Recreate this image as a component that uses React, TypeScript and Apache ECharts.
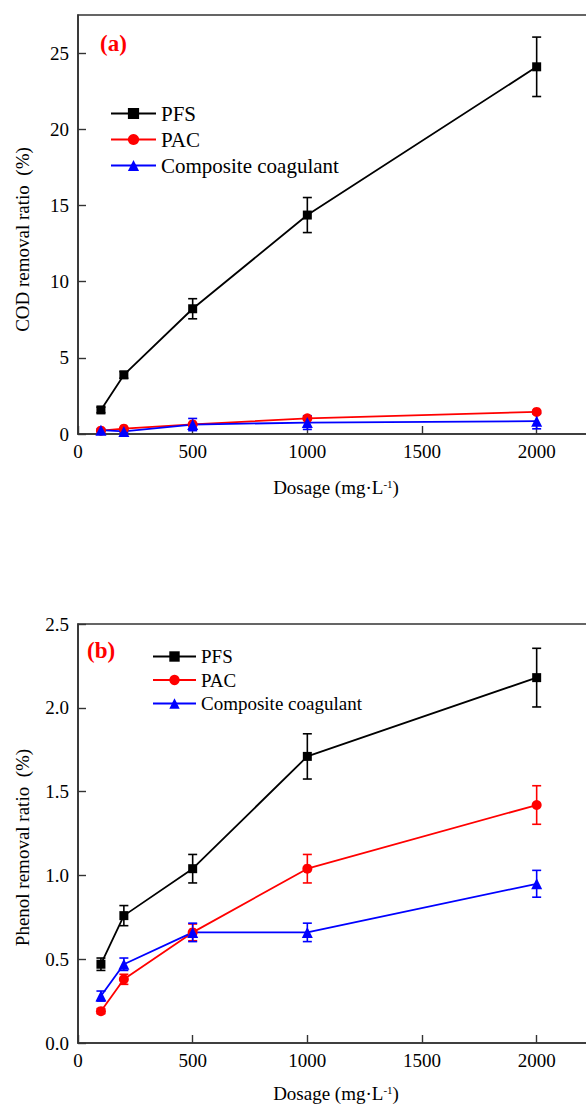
import React, { useEffect, useRef } from "react";
import * as echarts from "echarts";

// ---- data ----
const dosage = [100, 200, 500, 1000, 2000];
const seriesNames = ["PFS", "PAC", "Composite coagulant"];
const colors = ["#000000", "#ff0000", "#0000ff"];
const symbols = ["rect", "circle", "triangle"];

// (a) COD removal ratio (%)
const codPFS = [1.58, 3.88, 8.22, 14.37, 24.1];
const codPFSErr = [0.18, 0.22, 0.66, 1.15, 1.95];
const codPAC = [0.22, 0.35, 0.63, 1.03, 1.45];
const codPACErr = [0.05, 0.05, 0.06, 0.08, 0.1];
const codComp = [0.25, 0.17, 0.62, 0.75, 0.84];
const codCompErr = [0.1, 0.08, 0.4, 0.45, 0.5];

// (b) Phenol removal ratio (%)
const phPFS = [0.47, 0.76, 1.04, 1.71, 2.18];
const phPFSErr = [0.037, 0.06, 0.085, 0.135, 0.175];
const phPAC = [0.19, 0.38, 0.66, 1.04, 1.42];
const phPACErr = [0.015, 0.03, 0.05, 0.085, 0.115];
const phComp = [0.28, 0.47, 0.66, 0.66, 0.95];
const phCompErr = [0.03, 0.037, 0.055, 0.055, 0.08];

const xTicks = [0, 500, 1000, 1500, 2000];

const FONT = "Liberation Serif, Times New Roman, serif";
const AXIS_COLOR = "#333333";

function lineSeries(i: number, axis: number, values: number[]) {
  return {
    type: "line",
    name: seriesNames[i],
    xAxisIndex: axis,
    yAxisIndex: axis,
    data: dosage.map((d, k) => [d, values[k]]),
    symbol: symbols[i],
    symbolSize: i === 0 ? 9 : i === 1 ? 10 : 11,
    lineStyle: { color: colors[i], width: 1.8 },
    itemStyle: { color: colors[i] },
    z: 3,
  };
}

function errSeries(i: number, axis: number, values: number[], errs: number[]) {
  return {
    type: "custom",
    name: seriesNames[i] + " error",
    xAxisIndex: axis,
    yAxisIndex: axis,
    silent: true,
    z: 2,
    data: dosage.map((d, k) => [d, values[k] - errs[k], values[k] + errs[k]]),
    encode: { x: 0, y: [1, 2] },
    renderItem: (params: any, api: any) => {
      const x = api.value(0);
      const lo = api.coord([x, api.value(1)]);
      const hi = api.coord([x, api.value(2)]);
      const w = 4.5;
      const st = { stroke: colors[i], lineWidth: 1.6 };
      return {
        type: "group",
        children: [
          { type: "line", shape: { x1: lo[0], y1: lo[1], x2: hi[0], y2: hi[1] }, style: st },
          { type: "line", shape: { x1: lo[0] - w, y1: lo[1], x2: lo[0] + w, y2: lo[1] }, style: st },
          { type: "line", shape: { x1: hi[0] - w, y1: hi[1], x2: hi[0] + w, y2: hi[1] }, style: st },
        ],
      };
    },
  };
}

function xAxis(gridIndex: number, nameGap: number) {
  return {
    type: "value",
    gridIndex,
    min: 0,
    max: 2250,
    interval: 500,
    name: "{n|Dosage (mg·L}{s|-1}{n|)}",
    nameLocation: "middle",
    nameGap,
    nameTextStyle: {
      rich: {
        n: { fontFamily: FONT, fontSize: 19, color: "#000" },
        s: { fontFamily: FONT, fontSize: 11, color: "#000", verticalAlign: "top" },
      },
    },
    axisLine: { show: true, lineStyle: { color: AXIS_COLOR, width: 1.6 } },
    axisTick: { show: true, inside: true, length: 8, lineStyle: { color: AXIS_COLOR, width: 1.4 } },
    axisLabel: {
      show: true,
      fontFamily: FONT,
      fontSize: 19,
      color: "#000",
      margin: 8,
      showMaxLabel: false,
      formatter: (v: number) => (xTicks.includes(v) ? String(v) : ""),
    },
    splitLine: { show: false },
  };
}

function yAxis(gridIndex: number, max: number, interval: number, name: string, decimals: number, shift: number) {
  return {
    type: "value",
    gridIndex,
    min: 0,
    max,
    interval,
    name,
    nameLocation: "middle",
    nameGap: 46,
    nameTextStyle: { fontFamily: FONT, fontSize: 19, color: "#000", padding: [0, shift, 0, 0] },
    axisLine: { show: true, lineStyle: { color: AXIS_COLOR, width: 1.6 } },
    axisTick: { show: true, inside: true, length: 8, lineStyle: { color: AXIS_COLOR, width: 1.4 } },
    axisLabel: {
      show: true,
      fontFamily: FONT,
      fontSize: 19,
      color: "#000",
      margin: 9,
      showMaxLabel: decimals > 0,
      formatter: (v: number) => v.toFixed(decimals),
    },
    splitLine: { show: false },
  };
}

export default function App() {
  const ref = useRef<HTMLDivElement>(null);
  useEffect(() => {
    if (!ref.current) return;
    const chart = echarts.init(ref.current, null, { renderer: "svg" });
    const option: any = {
      animation: false,
      backgroundColor: "#ffffff",
      textStyle: { fontFamily: FONT },
      grid: [
        { left: 78, top: 15, width: 516, height: 419, show: true, borderColor: AXIS_COLOR, borderWidth: 1.6 },
        { left: 78, top: 624, width: 516, height: 419, show: true, borderColor: AXIS_COLOR, borderWidth: 1.6 },
      ],
      xAxis: [xAxis(0, 44), xAxis(1, 41)],
      yAxis: [
        yAxis(0, 27.5, 5, "COD removal ratio  (%)", 0, 30),
        yAxis(1, 2.5, 0.5, "Phenol removal ratio  (%)", 1, 28),
      ],
      legend: [
        {
          orient: "vertical",
          left: 105,
          top: 98,
          itemWidth: 45,
          itemHeight: 14,
          itemGap: 5,
          data: seriesNames,
          textStyle: { fontFamily: FONT, fontSize: 21, color: "#000" },
        },
        {
          orient: "vertical",
          left: 147,
          top: 642,
          itemWidth: 43,
          itemHeight: 13,
          itemGap: 4.5,
          data: seriesNames,
          textStyle: { fontFamily: FONT, fontSize: 19, color: "#000" },
        },
      ],
      graphic: [
        {
          type: "text",
          left: 100,
          top: 32,
          style: { text: "(a)", font: "bold 23px Liberation Serif, Times New Roman, serif", fill: "#ff0000" },
        },
        {
          type: "text",
          left: 87,
          top: 639,
          style: { text: "(b)", font: "bold 23px Liberation Serif, Times New Roman, serif", fill: "#ff0000" },
        },
      ],
      series: [
        lineSeries(0, 0, codPFS),
        lineSeries(1, 0, codPAC),
        lineSeries(2, 0, codComp),
        errSeries(0, 0, codPFS, codPFSErr),
        errSeries(1, 0, codPAC, codPACErr),
        errSeries(2, 0, codComp, codCompErr),
        lineSeries(0, 1, phPFS),
        lineSeries(1, 1, phPAC),
        lineSeries(2, 1, phComp),
        errSeries(0, 1, phPFS, phPFSErr),
        errSeries(1, 1, phPAC, phPACErr),
        errSeries(2, 1, phComp, phCompErr),
      ],
    };
    chart.setOption(option);
    return () => chart.dispose();
  }, []);
  return (
    <div
      style={{
        position: "absolute",
        left: 0,
        top: 0,
        width: 586,
        height: 1108,
        overflow: "hidden",
        background: "#fff",
      }}
    >
      <div ref={ref} style={{ width: 620, height: 1108 }} />
    </div>
  );
}
